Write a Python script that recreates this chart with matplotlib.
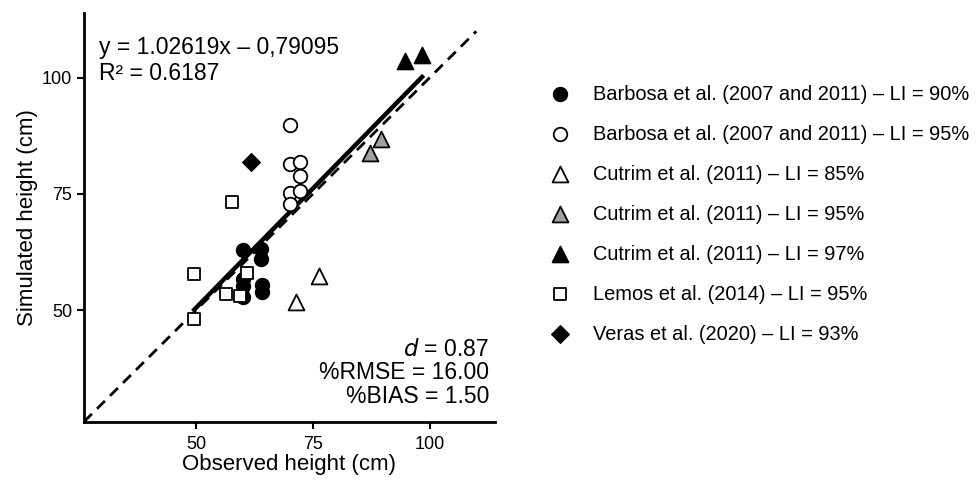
import numpy as np
import matplotlib
matplotlib.use("Agg")
import matplotlib.pyplot as plt

plt.rcParams['font.family'] = ['Liberation Sans', 'DejaVu Sans']

# observed / simulated height (cm) per source
barbosa90_x = [60.0, 60.0, 60.0, 60.0, 64.0, 64.0, 64.2, 64.2]
barbosa90_y = [62.9, 56.7, 55.2, 52.9, 63.1, 61.0, 55.4, 53.9]
barbosa95_x = [70.1, 70.1, 72.3, 72.3, 70.1, 72.3, 70.1]
barbosa95_y = [89.8, 81.5, 81.9, 78.8, 75.2, 75.6, 72.8]
cutrim85_x = [76.3, 71.3]
cutrim85_y = [57.3, 51.8]
cutrim95_x = [89.6, 87.3]
cutrim95_y = [86.9, 83.8]
cutrim97_x = [94.8, 98.4]
cutrim97_y = [103.6, 104.8]
lemos_x = [57.7, 49.6, 61.0, 56.3, 59.4, 49.6]
lemos_y = [73.3, 57.7, 58.0, 53.4, 53.0, 48.2]
veras_x = [61.8]
veras_y = [81.9]

slope = 1.02619
intercept = -0.79095
stats_top = ["y = 1.02619x \u2013 0,79095", "R\u00b2 = 0.6187"]
stats_bottom = ["$d$ = 0.87", "%RMSE = 16.00", "%BIAS = 1.50"]

labels = [
    "Barbosa et al. (2007 and 2011) \u2013 LI = 90%",
    "Barbosa et al. (2007 and 2011) \u2013 LI = 95%",
    "Cutrim et al. (2011) \u2013 LI = 85%",
    "Cutrim et al. (2011) \u2013 LI = 95%",
    "Cutrim et al. (2011) \u2013 LI = 97%",
    "Lemos et al. (2014) \u2013 LI = 95%",
    "Veras et al. (2020) \u2013 LI = 93%",
]

fig = plt.figure(figsize=(9.76, 4.8), dpi=100)
ax = fig.add_axes([0.0861, 0.1215, 0.421, 0.852])

lims = (26, 114)
ax.plot([26, 110], [26, 110], color='black', lw=2, ls=(0, (4, 2.6)), zorder=1)

all_x = np.array(barbosa90_x + barbosa95_x + cutrim85_x + cutrim95_x
                 + cutrim97_x + lemos_x + veras_x)
fx = np.array([all_x.min(), all_x.max()])
ax.plot(fx, slope * fx + intercept, color='black', lw=3.2, zorder=2)

ms = 95
ec = 'black'
h = []
h.append(ax.scatter(barbosa90_x, barbosa90_y, s=ms, marker='o', c='black', edgecolors=ec, lw=1.3, zorder=3))
h.append(ax.scatter(barbosa95_x, barbosa95_y, s=ms, marker='o', c='white', edgecolors=ec, lw=1.3, zorder=3))
h.append(ax.scatter(cutrim85_x, cutrim85_y, s=130, marker='^', c='white', edgecolors=ec, lw=1.3, zorder=3))
h.append(ax.scatter(cutrim95_x, cutrim95_y, s=130, marker='^', c='#a0a0a0', edgecolors=ec, lw=1.3, zorder=3))
h.append(ax.scatter(cutrim97_x, cutrim97_y, s=130, marker='^', c='black', edgecolors=ec, lw=1.3, zorder=3))
h.append(ax.scatter(lemos_x, lemos_y, s=80, marker='s', c='white', edgecolors=ec, lw=1.3, zorder=3))
h.append(ax.scatter(veras_x, veras_y, s=80, marker='D', c='black', edgecolors=ec, lw=1.0, zorder=3))

ax.set_xlim(*lims)
ax.set_ylim(*lims)
ax.set_xticks([50, 75, 100])
ax.set_yticks([50, 75, 100])
for s in ['top', 'right']:
    ax.spines[s].set_visible(False)
for s in ['left', 'bottom']:
    ax.spines[s].set_linewidth(2)
ax.tick_params(direction='out', length=5, width=1.5, labelsize=13, colors='black')
ax.tick_params(axis='x', pad=5)
ax.set_xlabel("Observed height (cm)", fontsize=16, labelpad=1)
ax.set_ylabel("Simulated height (cm)", fontsize=16, labelpad=3)

ax.text(29.2, 106.5, stats_top[0], fontsize=16.5, va='center', ha='left')
ax.text(29.2, 101.0, stats_top[1], fontsize=16.5, va='center', ha='left')
for t, yy in zip(stats_bottom, [41.6, 36.5, 31.5]):
    ax.text(112.8, yy, t, fontsize=16.5, va='center', ha='right')

fig.legend(h, labels, loc='center left', bbox_to_anchor=(0.545, 0.554),
           frameon=False, fontsize=14.4, labelspacing=1.05, handletextpad=0.65,
           scatterpoints=1, borderaxespad=0)

fig.savefig("out.png", dpi=100)
